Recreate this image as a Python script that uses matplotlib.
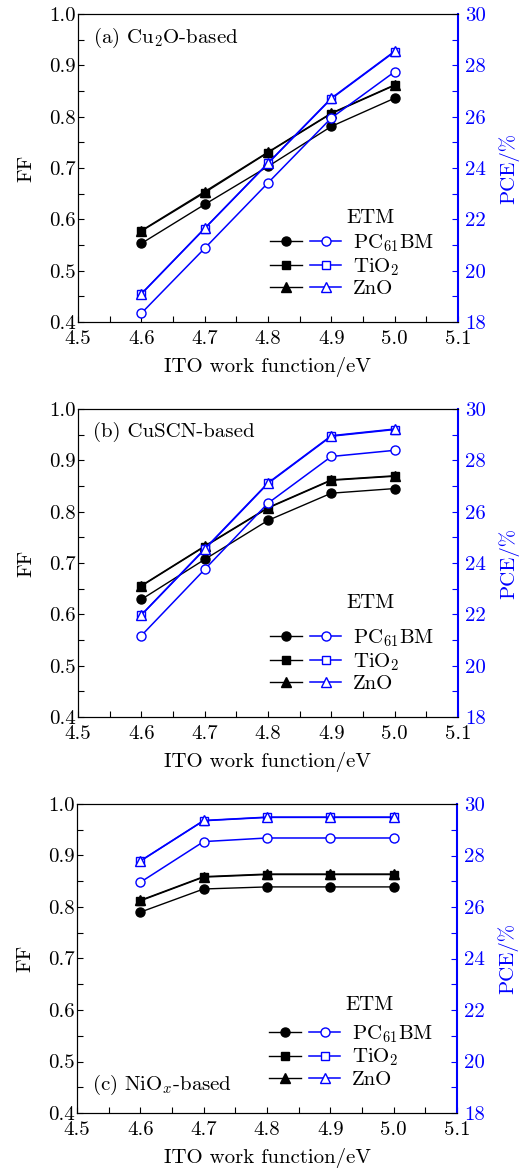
import numpy as np
import matplotlib
matplotlib.use("Agg")
import matplotlib.pyplot as plt
from matplotlib.legend_handler import HandlerTuple
from matplotlib.lines import Line2D
from matplotlib.ticker import MultipleLocator

plt.rcParams["font.family"] = "serif"
plt.rcParams["font.serif"] = ["cmr10", "DejaVu Serif"]
plt.rcParams["mathtext.fontset"] = "cm"
plt.rcParams["axes.formatter.use_mathtext"] = True

# ── data ─────────────────────────────────────────
wf = [4.6, 4.7, 4.8, 4.9, 5.0]
etm_labels = ["PC$_{61}$BM", "TiO$_2$", "ZnO"]
markers = ["o", "s", "^"]
msizes = [6.5, 5.5, 6.8]
panel_titles = ["(a) Cu$_2$O-based", "(b) CuSCN-based", "(c) NiO$_x$-based"]

# (a) Cu2O
ff_a_pcbm = [0.553, 0.629, 0.703, 0.781, 0.836]
ff_a_tio2 = [0.577, 0.652, 0.730, 0.806, 0.861]
ff_a_zno  = [0.578, 0.654, 0.731, 0.807, 0.862]
pce_a_pcbm = [18.34, 20.87, 23.42, 25.95, 27.75]
pce_a_tio2 = [19.09, 21.64, 24.18, 26.70, 28.53]
pce_a_zno  = [19.10, 21.65, 24.19, 26.72, 28.55]

# (b) CuSCN
ff_b_pcbm = [0.629, 0.707, 0.783, 0.836, 0.845]
ff_b_tio2 = [0.655, 0.732, 0.807, 0.861, 0.869]
ff_b_zno  = [0.656, 0.733, 0.808, 0.862, 0.870]
pce_b_pcbm = [21.17, 23.75, 26.33, 28.15, 28.39]
pce_b_tio2 = [21.97, 24.53, 27.10, 28.94, 29.20]
pce_b_zno  = [21.98, 24.55, 27.12, 28.96, 29.22]

# (c) NiOx
ff_c_pcbm = [0.790, 0.835, 0.839, 0.839, 0.839]
ff_c_tio2 = [0.812, 0.858, 0.863, 0.863, 0.863]
ff_c_zno  = [0.813, 0.859, 0.864, 0.864, 0.864]
pce_c_pcbm = [26.96, 28.54, 28.68, 28.68, 28.68]
pce_c_tio2 = [27.78, 29.35, 29.48, 29.48, 29.48]
pce_c_zno  = [27.79, 29.36, 29.49, 29.49, 29.49]

ff_sets = [[ff_a_pcbm, ff_a_tio2, ff_a_zno],
           [ff_b_pcbm, ff_b_tio2, ff_b_zno],
           [ff_c_pcbm, ff_c_tio2, ff_c_zno]]
pce_sets = [[pce_a_pcbm, pce_a_tio2, pce_a_zno],
            [pce_b_pcbm, pce_b_tio2, pce_b_zno],
            [pce_c_pcbm, pce_c_tio2, pce_c_zno]]

BLUE = "#0000ff"
FS = 15
W, H = 522, 1171
# axes boxes in pixels: left, top, right, bottom
boxes = [(78, 14, 458, 322), (78, 409, 458, 717), (77, 804, 457, 1113)]
title_pos = [(0.04, 0.922), (0.04, 0.925), (0.04, 0.09)]
etm_y = [0.338, 0.370, 0.350]

fig = plt.figure(figsize=(W / 100, H / 100), dpi=100)

for i in range(3):
    l, t, r, b = boxes[i]
    ax = fig.add_axes([l / W, (H - b) / H, (r - l) / W, (b - t) / H])
    ax2 = ax.twinx()

    for j in range(3):
        ax.plot(wf, ff_sets[i][j], color="black", marker=markers[j], ms=msizes[j],
                lw=1.0, mfc="black", mec="black")
        ax2.plot(wf, pce_sets[i][j], color=BLUE, marker=markers[j], ms=msizes[j],
                 lw=1.1, mfc="white", mec=BLUE, mew=1.0)

    ax.set_xlim(4.5, 5.1)
    ax.set_ylim(0.4, 1.0)
    ax2.set_ylim(18, 30)
    ax.xaxis.set_major_locator(MultipleLocator(0.1))
    ax.xaxis.set_minor_locator(MultipleLocator(0.05))
    ax.yaxis.set_major_locator(MultipleLocator(0.1))
    ax.yaxis.set_minor_locator(MultipleLocator(0.05))
    ax2.yaxis.set_major_locator(MultipleLocator(2))
    ax2.yaxis.set_minor_locator(MultipleLocator(1))
    ax.xaxis.set_major_formatter(plt.FuncFormatter(lambda v, p: f"{v:.1f}"))
    ax.yaxis.set_major_formatter(plt.FuncFormatter(lambda v, p: f"{v:.1f}"))
    ax2.yaxis.set_major_formatter(plt.FuncFormatter(lambda v, p: f"{v:.0f}"))

    ax.tick_params(which="both", direction="in", labelsize=FS, width=0.8, length=4)
    ax.tick_params(axis="y", pad=1.5)
    ax.tick_params(axis="x", pad=6)
    ax2.tick_params(which="both", direction="in", colors=BLUE, labelsize=FS,
                    width=0.8, length=4, pad=5)
    ax2.spines["right"].set_color(BLUE)
    ax2.spines["right"].set_linewidth(1.5)
    ax.spines["right"].set_visible(False)

    ax.set_xlabel("ITO work function/eV", fontsize=FS, labelpad=6)
    ax.set_ylabel("FF", fontsize=FS, labelpad=10)
    ax2.set_ylabel("PCE/%", fontsize=FS, color=BLUE, labelpad=9)

    ax.text(title_pos[i][0], title_pos[i][1], panel_titles[i],
            transform=ax.transAxes, fontsize=FS, va="center", ha="left")

    handles = []
    for j in range(3):
        h1 = Line2D([], [], color="black", marker=markers[j], ms=msizes[j], lw=1.0)
        h2 = Line2D([], [], color=BLUE, marker=markers[j], ms=msizes[j], lw=1.1,
                    mfc="white", mec=BLUE)
        handles.append((h1, h2))
    leg = ax2.legend(handles, etm_labels,
                     handler_map={tuple: HandlerTuple(ndivide=None, pad=0.4)},
                     loc="lower right", bbox_to_anchor=(0.975, 0.03), frameon=False,
                     fontsize=FS, handlelength=3.4, handletextpad=0.55,
                     labelspacing=0.1, borderpad=0.2)
    ax2.text(0.77, etm_y[i], "ETM", transform=ax.transAxes, fontsize=FS,
             ha="center", va="center")

fig.savefig("out.png", dpi=100)
